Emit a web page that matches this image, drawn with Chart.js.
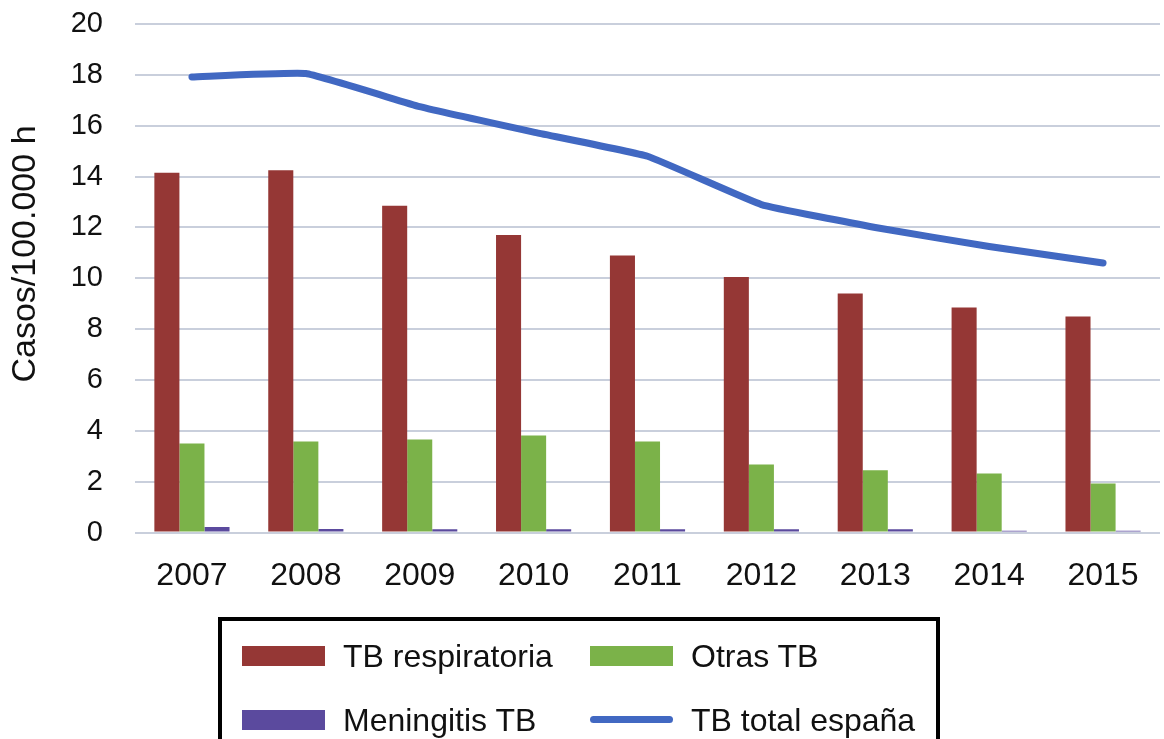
<!DOCTYPE html>
<html>
<head>
<meta charset="utf-8">
<script src="https://cdn.jsdelivr.net/npm/chart.js@4.4.1/dist/chart.umd.min.js"></script>
<style>
  html, body { margin: 0; padding: 0; background: #fff; }
  body { width: 1164px; height: 739px; position: relative; overflow: hidden; font-family: "Liberation Sans", Arial, sans-serif; }
  #wrap { position: absolute; left: 0; top: 0; width: 1164px; height: 625px; }
  #legend { position: absolute; left: 218px; top: 617px; width: 714px; height: 140px; border: 4px solid #000; }
  .item { position: absolute; font-size: 32px; color: #111; white-space: nowrap; }
  .sw { position: absolute; }
</style>
</head>
<body>
<div id="wrap"><canvas id="chart"></canvas></div>
<div id="legend"></div>
<script>
// years on the x axis
const years = ['2007', '2008', '2009', '2010', '2011', '2012', '2013', '2014', '2015'];

// cases per 100.000 inhabitants
const tbRespiratoria = [14.15, 14.25, 12.85, 11.7, 10.9, 10.05, 9.4, 8.85, 8.5];
const otrasTB = [3.5, 3.58, 3.66, 3.82, 3.58, 2.68, 2.45, 2.32, 1.93];
const meningitisTB = [0.22, 0.14, 0.13, 0.13, 0.13, 0.13, 0.13, 0.07, 0.07];
const tbTotalEspana = [17.92, 18.05, 16.75, 15.75, 14.8, 12.9, 12.0, 11.25, 10.6];

const yTicks = [0, 2, 4, 6, 8, 10, 12, 14, 16, 18, 20];
const yTitle = 'Casos/100.000 h';

const red = '#953735';
const green = '#7bb249';
const purple = '#5b4a9e';
const blue = '#4168c2';

// draws the rotated axis title a bit above the middle, like the original
const yTitlePlugin = {
    id: 'yTitle',
    afterDraw(chart) {
        const ctx = chart.ctx;
        ctx.save();
        ctx.translate(26, 254);
        ctx.rotate(-Math.PI / 2);
        ctx.font = '34px "Liberation Sans", Arial, sans-serif';
        ctx.fillStyle = '#111';
        ctx.textAlign = 'center';
        ctx.textBaseline = 'middle';
        ctx.fillText(yTitle, 0, 0);
        ctx.restore();
    }
};

const chart = new Chart(document.getElementById('chart'), {
    type: 'bar',
    data: {
        labels: years,
        datasets: [
            { type: 'bar', label: 'TB respiratoria', data: tbRespiratoria, backgroundColor: red, order: 1 },
            { type: 'bar', label: 'Otras TB', data: otrasTB, backgroundColor: green, order: 1 },
            { type: 'bar', label: 'Meningitis TB', data: meningitisTB, backgroundColor: purple, order: 1 },
            {
                type: 'line', label: 'TB total españa', data: tbTotalEspana,
                borderColor: blue, backgroundColor: blue, borderWidth: 7,
                pointRadius: 0, tension: 0.1, order: 0,
                borderCapStyle: 'round', borderJoinStyle: 'round'
            }
        ]
    },
    options: {
        responsive: true,
        maintainAspectRatio: false,
        animation: false,
        layout: { padding: { top: 24, right: 4, bottom: 6, left: 0 } },
        datasets: {
            bar: { barPercentage: 1, categoryPercentage: 0.66 }
        },
        plugins: {
            legend: { display: false },
            tooltip: { enabled: false }
        },
        scales: {
            x: {
                grid: { display: false, drawTicks: false },
                border: { display: false },
                ticks: {
                    color: '#111', padding: 24,
                    font: { family: '"Liberation Sans", Arial, sans-serif', size: 32 }
                }
            },
            y: {
                min: 0, max: 20,
                afterFit(scale) {
                    scale.width = 135;
                    scale.paddingTop = 0;
                    scale.paddingBottom = 0;
                },
                afterBuildTicks(scale) { scale.ticks = yTicks.map(v => ({ value: v })); },
                grid: { color: '#c9cfdc', lineWidth: 2, drawTicks: false },
                border: { display: false },
                ticks: {
                    color: '#111', padding: 32,
                    font: { family: '"Liberation Sans", Arial, sans-serif', size: 29 }
                }
            }
        }
    },
    plugins: [yTitlePlugin]
});

// legend box below the chart, two columns and two rows
const legend = document.getElementById('legend');
const colX = [20, 368];
const rowY = [35, 99];
chart.data.datasets.forEach((ds, i) => {
    const col = i % 2, row = Math.floor(i / 2);
    const sw = document.createElement('div');
    sw.className = 'sw';
    sw.style.left = colX[col] + 'px';
    sw.style.width = '83px';
    sw.style.background = ds.type === 'line' ? ds.borderColor : ds.backgroundColor;
    if (ds.type === 'line') {
        sw.style.top = (rowY[row] - 4) + 'px';
        sw.style.height = '7px';
        sw.style.borderRadius = '4px';
    } else {
        sw.style.top = (rowY[row] - 10) + 'px';
        sw.style.height = '20px';
    }
    legend.appendChild(sw);
    const t = document.createElement('div');
    t.className = 'item';
    t.textContent = ds.label;
    t.style.left = (colX[col] + 101) + 'px';
    t.style.top = (rowY[row] - 19) + 'px';
    t.style.lineHeight = '38px';
    legend.appendChild(t);
});
</script>
</body>
</html>
